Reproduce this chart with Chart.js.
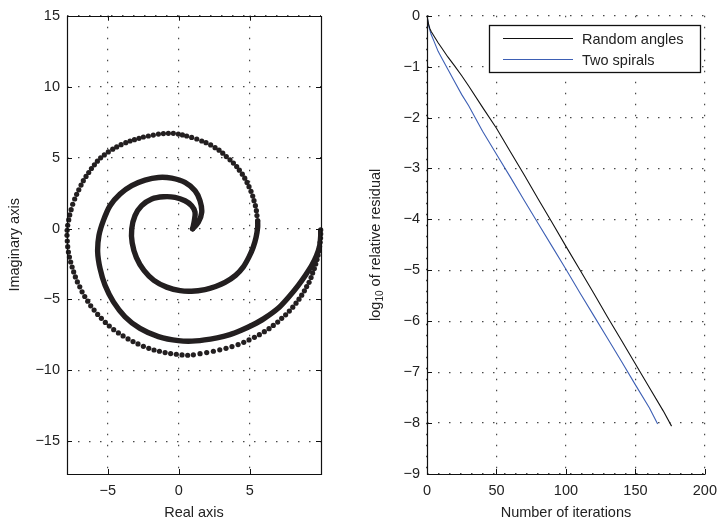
<!DOCTYPE html>
<html>
<head>
<meta charset="utf-8">
<script src="https://cdn.jsdelivr.net/npm/chart.js@4.4.0/dist/chart.umd.min.js"></script>
<style>
  html, body { margin: 0; padding: 0; background: #fff; }
  #wrap { position: relative; width: 725px; height: 524px; }
  #left { position: absolute; left: 0; top: 0; }
  #right { position: absolute; left: 360px; top: 0; }
</style>
</head>
<body>
<div id="wrap">
  <canvas id="left" width="360" height="524"></canvas>
  <canvas id="right" width="365" height="524"></canvas>
</div>
<script>
// eigenvalues in the complex plane: two spirals from 1 to 10
// dense stretches are stored as a path, the sparse outer arm dot by dot
const spiralOneCore = [[0.98,-0.02],[1.1,0.56],[1.15,1.15],[0.91,1.61],[0.44,1.96],[-0.26,2.2],[-1.08,2.24],[-1.9,2.08],[-2.61,1.61],[-3.08,0.91],[-3.31,-0.02],[-3.28,-1.0],[-2.98,-2.05],[-2.45,-2.95],[-1.75,-3.65],[-0.85,-4.13],[0.1,-4.38],[0.9,-4.42],[1.85,-4.3],[2.6,-4.08],[3.26,-3.8],[4.0,-3.3],[4.55,-2.7],[4.95,-2.0],[5.25,-1.3],[5.45,-0.6],[5.56,0.1],[5.56,0.5]]

const spiralOneDots = [[5.56,0.56],[5.51,0.91],[5.47,1.26],[5.40,1.61],[5.30,1.96],[5.21,2.29],[5.09,2.62],[4.95,2.95],[4.81,3.25],[4.65,3.55],[4.48,3.83],[4.27,4.11],[4.08,4.37],[3.85,4.61],[3.61,4.84],[3.35,5.07],[3.10,5.31],[2.84,5.52],[2.56,5.70],[2.25,5.89],[1.92,6.05],[1.62,6.17],[1.27,6.31],[0.91,6.42],[0.56,6.52],[0.26,6.60],[-0.03,6.66],[-0.38,6.71],[-0.73,6.71],[-1.08,6.69],[-1.43,6.66],[-1.79,6.59],[-2.14,6.52],[-2.49,6.45],[-2.80,6.36],[-3.12,6.26],[-3.43,6.17],[-3.73,6.05],[-4.06,5.91],[-4.37,5.75],[-4.65,5.59],[-4.96,5.40],[-5.24,5.19],[-5.50,4.98],[-5.73,4.75],[-5.94,4.49],[-6.15,4.23],[-6.34,3.95],[-6.53,3.67],[-6.72,3.37],[-6.88,3.06],[-7.04,2.73],[-7.19,2.41],[-7.33,2.08],[-7.47,1.71],[-7.58,1.33],[-7.68,0.96],[-7.75,0.61],[-7.82,0.23],[-7.86,-0.12],[-7.87,-0.48],[-7.85,-0.88],[-7.82,-1.28],[-7.77,-1.66],[-7.70,-2.01],[-7.61,-2.36],[-7.51,-2.71],[-7.40,-3.06],[-7.28,-3.41],[-7.14,-3.76],[-6.97,-4.11],[-6.81,-4.46],[-6.62,-4.79],[-6.41,-5.12],[-6.20,-5.45],[-5.96,-5.75],[-5.71,-6.05],[-5.45,-6.33],[-5.17,-6.62],[-4.89,-6.87],[-4.58,-7.13],[-4.25,-7.36],[-3.92,-7.57],[-3.57,-7.78],[-3.22,-7.97],[-2.87,-8.13],[-2.49,-8.30],[-2.11,-8.44],[-1.74,-8.56],[-1.36,-8.65],[-0.96,-8.74],[-0.57,-8.81],[-0.17,-8.86],[0.23,-8.91],[0.63,-8.93],[1.03,-8.90],[1.50,-8.82],[1.97,-8.74],[2.44,-8.65],[2.89,-8.55],[3.33,-8.44],[3.75,-8.32],[4.18,-8.18],[4.58,-8.02],[4.95,-7.85],[5.33,-7.67],[5.68,-7.48],[6.03,-7.27],[6.36,-7.06],[6.66,-6.83],[6.97,-6.59],[7.25,-6.33],[7.53,-6.08],[7.79,-5.82],[8.03,-5.54],[8.26,-5.26],[8.47,-4.98],[8.66,-4.70],[8.85,-4.39],[9.01,-4.09],[9.18,-3.79],[9.32,-3.45],[9.43,-3.13],[9.55,-2.82],[9.65,-2.50],[9.74,-2.19],[9.81,-1.88],[9.87,-1.57],[9.92,-1.27],[9.96,-0.97],[9.99,-0.67],[10.0,-0.38],[10.0,-0.10]]

const spiralTwoCore = [[0.98,-0.02],[1.38,0.44],[1.62,1.15],[1.5,1.96],[1.15,2.66],[0.44,3.25],[-0.5,3.55],[-1.43,3.6],[-2.37,3.41],[-3.31,3.02],[-4.13,2.43],[-4.84,1.61],[-5.31,0.56],[-5.62,-0.49],[-5.71,-1.66],[-5.54,-2.83],[-5.19,-4.0],[-4.6,-5.17],[-3.78,-6.22],[-2.73,-7.04],[-1.43,-7.62],[-0.03,-7.9],[1.2,-7.92],[2.7,-7.7],[3.6,-7.48],[4.4,-7.17],[5.2,-6.8],[6.0,-6.35],[7.0,-5.62],[7.75,-4.82],[8.42,-4.0],[8.95,-3.25],[9.37,-2.59],[9.7,-1.92],[9.93,-1.2],[10.0,-0.5],[10.0,-0.15]]

const realTicks = [-5, 0, 5]
const imagTicks = [-15, -10, -5, 0, 5, 10, 15]

// convergence history, log10 of the relative residual per iteration
const iterRandom = [0, 1, 2, 3, 5, 8, 10, 15, 20, 25, 30, 40, 50, 60, 70, 80, 90, 100, 110, 120, 130, 140, 150, 160, 170, 176]
const residRandom = [0, -0.15, -0.25, -0.31, -0.40, -0.53, -0.61, -0.81, -0.99, -1.18, -1.38, -1.80, -2.21, -2.67, -3.13, -3.60, -4.06, -4.53, -4.99, -5.45, -5.92, -6.38, -6.84, -7.30, -7.76, -8.06]
const iterSpiral = [0, 1, 2, 3, 5, 8, 10, 15, 20, 25, 30, 40, 50, 60, 70, 80, 90, 100, 110, 120, 130, 140, 150, 160, 166]
const residSpiral = [0, -0.18, -0.28, -0.37, -0.50, -0.70, -0.80, -1.05, -1.30, -1.55, -1.77, -2.27, -2.72, -3.17, -3.63, -4.08, -4.53, -4.98, -5.44, -5.89, -6.34, -6.79, -7.25, -7.70, -8.02]
const iterTicks = [0, 50, 100, 150, 200]
const residTicks = [0, -1, -2, -3, -4, -5, -6, -7, -8, -9]

const FONT = '"Liberation Sans", Arial, Helvetica, sans-serif'
const ink = '#231f20'
const gridColor = 'rgba(40,40,40,0.85)'

Chart.defaults.font.family = FONT
Chart.defaults.font.size = 14.5
Chart.defaults.color = '#222'

function toPoints(pairs) { return pairs.map(p => ({ x: p[0], y: p[1] })) }
function zipPoints(xs, ys) { return xs.map((x, i) => ({ x: x, y: ys[i] })) }
function minus(v) { return String(v).replace('-', '\u2212') }
function fixedTicks(values) { return function (scale) { scale.ticks = values.map(v => ({ value: v })) } }

function axis(min, max, ticks, size, horizontal, title) {
    return {
        type: 'linear', min: min, max: max,
        afterBuildTicks: fixedTicks(ticks),
        afterFit: function (scale) { if (horizontal) scale.height = size; else scale.width = size },
        grid: { color: gridColor, lineWidth: 1.2, drawTicks: false },
        border: { display: false, dash: [1.5, 9.5] },
        ticks: { padding: horizontal ? 8 : 7, color: '#222', callback: minus },
        title: {
            display: !!title, text: title, color: '#222',
            padding: horizontal ? { top: 0, bottom: 2.5 } : { top: 6.5, bottom: 0 }
        }
    }
}

// matlab style: ticks point into the plot, optional full box
const inwardTicks = {
    id: 'inwardTicks',
    afterDatasetsDraw(chart, args, opts) {
        const ctx = chart.ctx, a = chart.chartArea
        const sx = chart.scales.x, sy = chart.scales.y
        const len = 5
        ctx.save()
        ctx.strokeStyle = '#111'
        ctx.lineWidth = 1
        ctx.beginPath()
        sx.ticks.forEach(t => {
            const px = Math.round(sx.getPixelForValue(t.value)) + 0.5
            ctx.moveTo(px, a.bottom); ctx.lineTo(px, a.bottom - len)
            if (opts.box) { ctx.moveTo(px, a.top); ctx.lineTo(px, a.top + len) }
        })
        sy.ticks.forEach(t => {
            const py = Math.round(sy.getPixelForValue(t.value)) + 0.5
            ctx.moveTo(a.left, py); ctx.lineTo(a.left + len, py)
            if (opts.box) { ctx.moveTo(a.right, py); ctx.lineTo(a.right - len, py) }
        })
        ctx.stroke()
        const l = Math.round(a.left) + 0.5, r = Math.round(a.right) + 0.5
        const t = Math.round(a.top) + 0.5, b = Math.round(a.bottom) + 0.5
        ctx.lineWidth = 1.2
        ctx.beginPath()
        if (opts.box) {
            ctx.rect(l, t, r - l, b - t)
        } else {
            ctx.moveTo(l, t); ctx.lineTo(l, b); ctx.lineTo(r, b)
        }
        ctx.stroke()
        ctx.restore()
    }
}

// y title with a subscript, and the boxed legend
const residualDecor = {
    id: 'residualDecor',
    afterDraw(chart) {
        const ctx = chart.ctx, a = chart.chartArea
        const big = '14.5px ' + FONT, small = '10px ' + FONT
        const parts = [['log', big, 0], ['10', small, 4], [' of relative residual', big, 0]]
        ctx.save()
        let total = 0
        parts.forEach(p => { ctx.font = p[1]; total += ctx.measureText(p[0]).width })
        ctx.translate(16, (a.top + a.bottom) / 2)
        ctx.rotate(-Math.PI / 2)
        ctx.fillStyle = '#222'
        ctx.textBaseline = 'middle'
        let pos = -total / 2
        parts.forEach(p => {
            ctx.font = p[1]
            ctx.fillText(p[0], pos, p[2])
            pos += ctx.measureText(p[0]).width
        })
        ctx.restore()

        const left = 129, top = 25, w = 211, h = 47
        ctx.save()
        ctx.fillStyle = '#fff'
        ctx.fillRect(left, top, w, h)
        ctx.strokeStyle = '#111'
        ctx.lineWidth = 1.3
        ctx.strokeRect(left + 0.5, top + 0.5, w, h)
        chart.data.datasets.forEach((ds, i) => {
            const y = top + 13.5 + i * 21
            ctx.strokeStyle = ds.borderColor
            ctx.lineWidth = 1.2
            ctx.beginPath()
            ctx.moveTo(left + 14, y); ctx.lineTo(left + 84, y)
            ctx.stroke()
            ctx.fillStyle = '#222'
            ctx.font = big
            ctx.textBaseline = 'middle'
            ctx.fillText(ds.label, left + 93, y + 1)
        })
        ctx.restore()
    }
}

function thickPath(pairs) {
    return {
        data: toPoints(pairs), showLine: true, borderColor: ink, borderWidth: 5.4,
        borderCapStyle: 'round', borderJoinStyle: 'round', tension: 0.3,
        pointRadius: 0, fill: false
    }
}

new Chart('left', {
    type: 'scatter',
    data: {
        datasets: [
            thickPath(spiralTwoCore),
            thickPath(spiralOneCore),
            { data: toPoints(spiralOneDots), pointRadius: 2.6, pointBackgroundColor: ink, pointBorderWidth: 0, clip: false }
        ]
    },
    options: {
        responsive: false,
        animation: false,
        layout: { padding: { left: 0, top: 14, right: 39, bottom: 0 } },
        plugins: { legend: { display: false }, tooltip: { enabled: false }, inwardTicks: { box: true } },
        scales: {
            x: axis(-7.87, 10.02, realTicks, 50, true, 'Real axis'),
            y: axis(-17.3, 15, imagTicks, 67, false, 'Imaginary axis')
        }
    },
    plugins: [inwardTicks]
})

new Chart('right', {
    type: 'scatter',
    data: {
        datasets: [
            { label: 'Random angles', data: zipPoints(iterRandom, residRandom), showLine: true, borderColor: '#111', borderWidth: 1.1, pointRadius: 0, tension: 0 },
            { label: 'Two spirals', data: zipPoints(iterSpiral, residSpiral), showLine: true, borderColor: '#3d5fb4', borderWidth: 1.1, pointRadius: 0, tension: 0 }
        ]
    },
    options: {
        responsive: false,
        animation: false,
        layout: { padding: { left: 0, top: 13, right: 13, bottom: 0 } },
        plugins: { legend: { display: false }, tooltip: { enabled: false }, inwardTicks: { box: false } },
        scales: {
            x: axis(0, 200, iterTicks, 50, true, 'Number of iterations'),
            y: axis(-9, 0, residTicks, 67, false, '')
        }
    },
    plugins: [inwardTicks, residualDecor]
})
</script>
</body>
</html>
